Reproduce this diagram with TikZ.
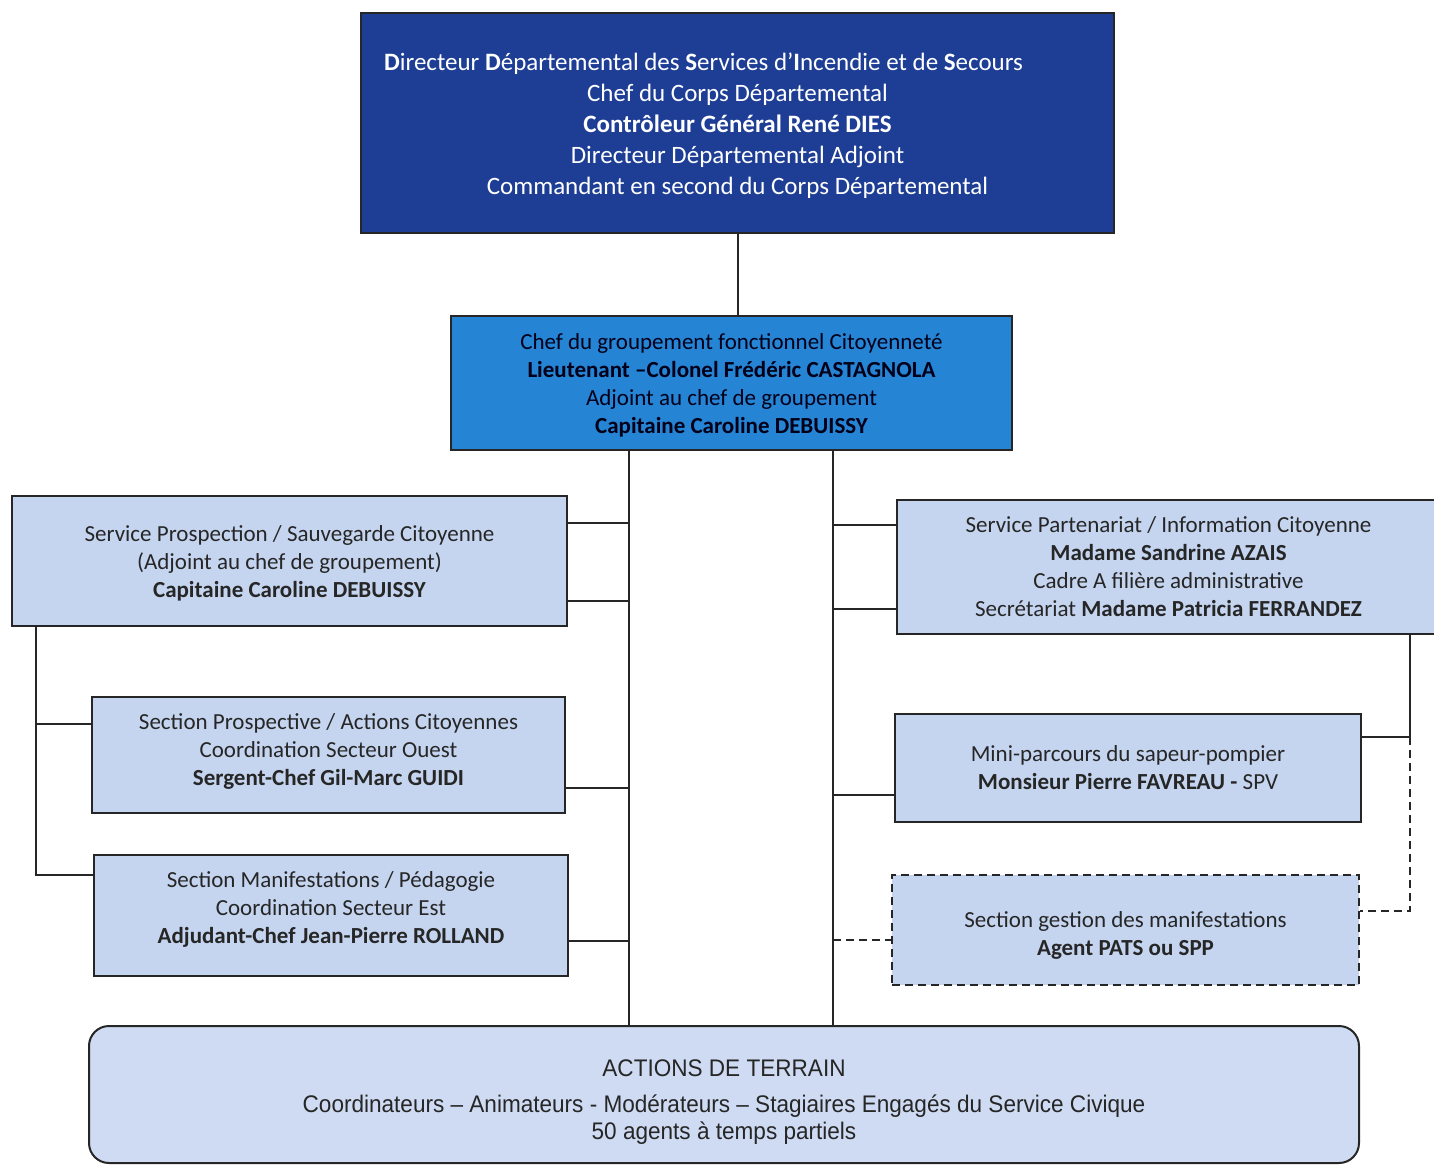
\documentclass[tikz,border=0pt]{standalone}
\usepackage{fontspec}
\setmainfont{Carlito}
\newfontfamily\arialfont[FakeStretch=0.94]{Liberation Sans}
\usetikzlibrary{positioning}
\definecolor{chefblue}{RGB}{30,62,150}
\definecolor{groupblue}{RGB}{38,132,212}
\definecolor{paleblue}{RGB}{197,213,240}
\tikzstyle{unit}=[draw=black!85, line width=1pt, align=center, inner sep=0pt]
\tikzstyle{service}=[unit, fill=paleblue, text=black!85, font=\fontsize{11.5}{14}\selectfont]
\tikzstyle{pending}=[service, dash pattern=on 4pt off 2.5pt]
\tikzstyle{link}=[line width=1pt, draw=black!85]

\begin{document}
\begin{tikzpicture}[x=0.5pt,y=-0.5pt]
  \useasboundingbox (0,0) rectangle (1434,1166);

  \node[unit, fill=chefblue, text=white, font=\fontsize{12.5}{15.5}\selectfont,
        minimum width=376.5pt, minimum height=110pt] (ddsis) at (737.5,123)
    {\rule{0pt}{12pt}{\bfseries D}irecteur {\bfseries D}épartemental des {\bfseries S}ervices d’{\bfseries I}ncendie et de {\bfseries S}ecours\hspace*{34pt}\\
     Chef du Corps Départemental\\
     \textbf{Contrôleur Général René DIES}\\
     Directeur Départemental Adjoint\\
     Commandant en second du Corps Départemental};

  \node[unit, fill=groupblue, text=black!90!blue, font=\fontsize{11.5}{14}\selectfont,
        minimum width=280.5pt, minimum height=67pt] (groupement) at (731.5,383)
    {\rule{0pt}{10pt}Chef du groupement fonctionnel Citoyenneté\\
     \textbf{Lieutenant –Colonel Frédéric CASTAGNOLA}\\
     Adjoint au chef de groupement\\
     \textbf{Capitaine Caroline DEBUISSY}};

  % cote ouest
  \node[service, minimum width=277.5pt, minimum height=65pt] (prospection) at (289.5,561)
    {\rule{0pt}{10pt}Service Prospection / Sauvegarde Citoyenne\\
     (Adjoint au chef de groupement)\\
     \textbf{Capitaine Caroline DEBUISSY}};
  \node[service, minimum width=236.5pt, minimum height=58pt] (prospective) at (328.5,755)
    {Section Prospective / Actions Citoyennes\\
     Coordination Secteur Ouest\\
     \textbf{Sergent-Chef Gil-Marc GUIDI}\rule[-5pt]{0pt}{5pt}};
  \node[service, minimum width=237pt, minimum height=60.5pt] (pedagogie) at (331,915.5)
    {Section Manifestations / Pédagogie\\
     Coordination Secteur Est\\
     \textbf{Adjudant-Chef Jean-Pierre ROLLAND}\rule[-7.5pt]{0pt}{7.5pt}};

  % cote est
  \node[service, minimum width=271.5pt, minimum height=67pt] (partenariat) at (1168.5,567)
    {Service Partenariat / Information Citoyenne\\
     \textbf{Madame Sandrine AZAIS}\\
     Cadre A filière administrative\\
     Secrétariat \textbf{Madame Patricia FERRANDEZ}};
  \node[service, minimum width=233pt, minimum height=54pt] (parcours) at (1128,768)
    {Mini-parcours du sapeur-pompier\\
     \textbf{Monsieur Pierre FAVREAU -} SPV};
  \node[pending, minimum width=233.5pt, minimum height=55pt] (gestion) at (1125.5,930)
    {\rule{0pt}{13pt}Section gestion des manifestations\\
     \textbf{Agent PATS ou SPP}};

  \node[unit, fill=paleblue!85!white, rounded corners=10pt, text=black!85,
        font=\arialfont\fontsize{12}{13.5}\selectfont,
        minimum width=635pt, minimum height=68.5pt] (terrain) at (724,1094.5)
    {\rule{0pt}{16pt}ACTIONS DE TERRAIN\\[4.5pt]
     Coordinateurs – Animateurs - Modérateurs – Stagiaires Engagés du Service Civique\\
     50 agents à temps partiels};

  \coordinate (trunkW) at (629,0);
  \coordinate (trunkE) at (833,0);
  \coordinate (railW) at (36,0);
  \coordinate (railE) at (1410,0);

  \draw[link] (ddsis.south) -- (ddsis.south |- groupement.north);
  \draw[link] (groupement.south -| trunkW) -- (terrain.north -| trunkW);
  \draw[link] (groupement.south -| trunkE) -- (terrain.north -| trunkE);

  \foreach \unit/\y in {prospection/523, prospection/601, prospective/788, pedagogie/941}
    \draw[link] (\unit.east |- 0,\y) -- (trunkW |- 0,\y);
  \foreach \unit/\y in {partenariat/525, partenariat/609, parcours/795}
    \draw[link] (trunkE |- 0,\y) -- (\unit.west |- 0,\y);
  \draw[link, dash pattern=on 4pt off 2.5pt] (trunkE |- 0,940) -- (gestion.west |- 0,940);

  \draw[link] (prospection.south -| railW) -- (railW |- 0,875) -- (pedagogie.west |- 0,875);
  \draw[link] (railW |- 0,724) -- (prospective.west |- 0,724);

  \draw[link] (partenariat.south -| railE) -- (railE |- 0,737) -- (parcours.east |- 0,737);
  \draw[link, dash pattern=on 4pt off 2.5pt] (railE |- 0,737) -- (railE |- 0,911) -- (gestion.east |- 0,911);

\end{tikzpicture}
\end{document}
